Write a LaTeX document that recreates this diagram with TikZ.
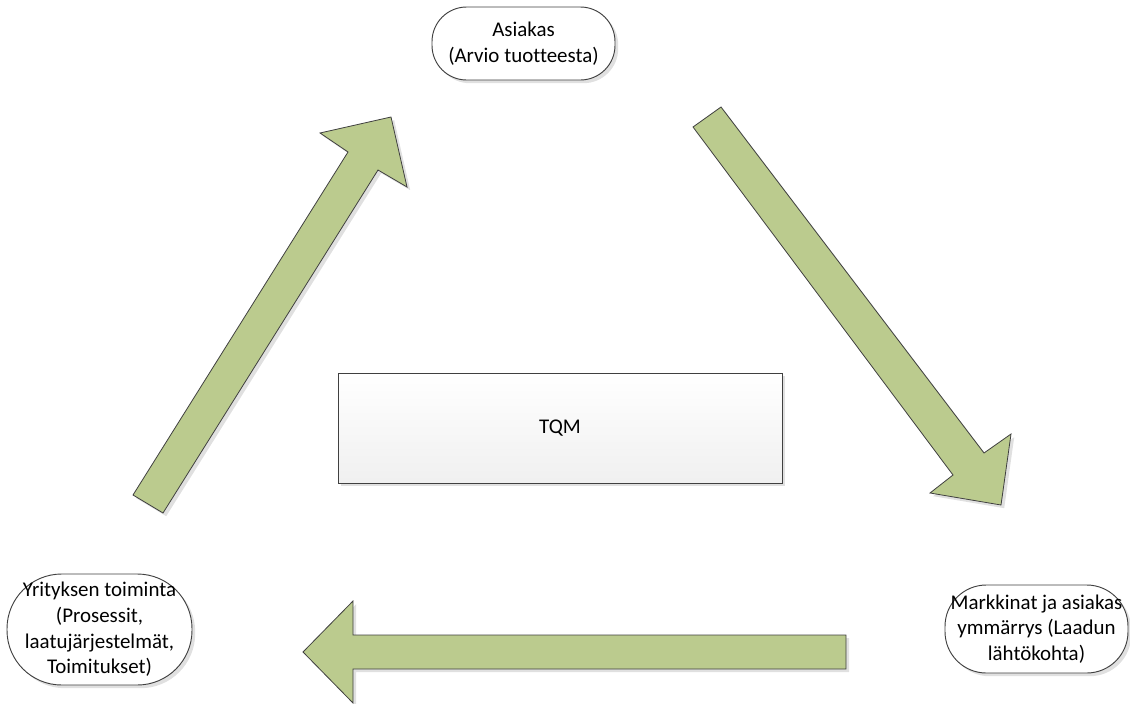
\documentclass[tikz,border=0pt]{standalone}
\usepackage{fontspec}
\setmainfont{Carlito}[Ligatures=NoCommon]
\usetikzlibrary{shadows}
\definecolor{arrowgreen}{RGB}{187,203,142}
\definecolor{edgegray}{RGB}{64,64,64}
\tikzset{
  softshadow/.style={drop shadow={shadow xshift=2.4pt, shadow yshift=-2.4pt, fill=black, opacity=0.12}},
  bubble/.style={draw=edgegray, line width=0.7pt, fill=white, softshadow,
    inner sep=0pt, align=center, font=\fontsize{15.7}{19.3}\selectfont},
  centerbox/.style={draw=edgegray, line width=0.7pt, top color=white, bottom color=black!6,
    softshadow, inner sep=0pt, font=\fontsize{15.7}{19.3}\selectfont},
  blockarrow/.style={draw=edgegray, line width=0.6pt, fill=arrowgreen, line join=miter, softshadow}
}
\begin{document}
\begin{tikzpicture}[x=0.75pt, y=-0.75pt]
  \useasboundingbox (0,0) rectangle (1130,703);

  % cycle arrows
  \path[blockarrow] (133,495) -- (348,152) -- (320,133) -- (391,117) -- (407,187)
    -- (378,170) -- (163,513) -- cycle;
  \path[blockarrow] (721,107) -- (984,453) -- (1011,434) -- (1001,505) -- (930,493)
    -- (953,475) -- (693,127) -- cycle;
  \path[blockarrow] (846,635) -- (353,635) -- (353,601) -- (303,652) -- (353,703)
    -- (353,669) -- (846,669) -- cycle;

  % stations of the cycle
  \node[bubble, minimum width=137.25pt, minimum height=54.75pt, rounded corners=26pt]
    (asiakas) at (523.5,43.5) {Asiakas\\(Arvio tuotteesta)};
  \node[bubble, minimum width=137.25pt, minimum height=66pt, rounded corners=31pt]
    (markkinat) at (1036.5,629) {Markkinat ja asiakas\\ymmärrys (Laadun\\lähtökohta)};
  \node[bubble, minimum width=138.75pt, minimum height=83.25pt, rounded corners=41pt]
    (yritys) at (99.5,629.5) {Yrityksen toiminta\\(Prosessit,\\laatujärjestelmät,\\Toimitukset)};

  % centre
  \node[centerbox, minimum width=333pt, minimum height=82.5pt] (tqm) at (560,428) {TQM};
\end{tikzpicture}
\end{document}
